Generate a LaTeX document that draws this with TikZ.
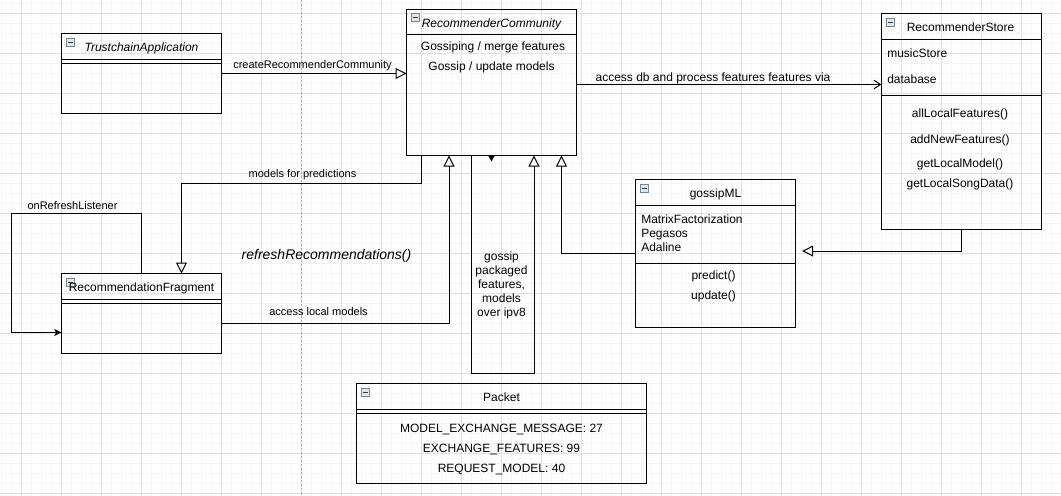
\documentclass[tikz,border=0pt]{standalone}
\usepackage{fontspec}
\setmainfont{Liberation Sans}
\usetikzlibrary{arrows.meta}

\tikzstyle{uml class}=[draw, rectangle, inner sep=0pt, outer sep=0pt, line width=0.75pt]
\tikzstyle{class text}=[inner sep=0pt, font=\fontsize{9}{10.5}\selectfont, text height=7.5pt, text depth=0pt]
\tikzstyle{edge label}=[inner sep=0pt, font=\fontsize{8.25}{10}\selectfont, text height=7.2pt, text depth=0pt]
\tikzstyle{connector}=[line width=0.75pt]
\tikzstyle{generalization}=[connector, -{Triangle[open, length=8.25pt, width=8.25pt]}]
\tikzstyle{collapse icon}=[draw=iconborder, fill=iconfill, line width=0.6pt, minimum size=6pt, inner sep=0pt, path picture={\draw[line width=0.75pt, iconline] ([xshift=1.2pt]path picture bounding box.west) -- ([xshift=-1.2pt]path picture bounding box.east);}]
\definecolor{gridminor}{RGB}{244,244,244}
\definecolor{gridmajor}{RGB}{224,224,224}
\definecolor{pagebreak}{RGB}{170,170,170}
\definecolor{iconborder}{RGB}{120,135,150}
\definecolor{iconfill}{RGB}{225,230,236}
\definecolor{iconline}{RGB}{60,60,60}

\begin{document}
\begin{tikzpicture}[x=0.75pt, y=-0.75pt]
		\useasboundingbox (0,0) rectangle (1061,496);
		% background grid
		\foreach \x in {1,11,...,1061} \draw[gridminor, line width=0.75pt] (\x,0) -- (\x,496);
		\foreach \y in {3.5,13.5,...,493.5} \draw[gridminor, line width=0.75pt] (0,\y) -- (1061,\y);
		\foreach \x in {21,61,...,1061} \draw[gridmajor, line width=0.75pt] (\x,0) -- (\x,496);
		\foreach \y in {13.5,53.5,...,493.5} \draw[gridmajor, line width=0.75pt] (0,\y) -- (1061,\y);
		\draw[pagebreak, line width=0.75pt, dash pattern=on 1.5pt off 1.5pt] (301.5,0) -- (301.5,496);
		
		% classes
		\node [uml class, minimum width=120pt, minimum height=60pt] (app) at (141.5,73.5) {};
		\node [uml class, minimum width=120pt, minimum height=60pt] (frag) at (141.5,313.5) {};
		\node [uml class, minimum width=127.5pt, minimum height=109.5pt] (comm) at (491.5,82.5) {};
		\node [uml class, minimum width=120pt, minimum height=162pt] (store) at (961.5,121.5) {};
		\node [uml class, minimum width=120pt, minimum height=111pt] (gml) at (715.5,253.5) {};
		\node [uml class, minimum width=217.5pt, minimum height=75pt] (packet) at (501.5,433.5) {};
		
		\foreach \c/\d in {app/19.5, app/22.5, frag/19.5, frag/22.5, comm/18.75, store/19.5, store/61.5, gml/19.5, gml/63, packet/19.5, packet/22.5}
			\draw[line width=0.75pt] ([yshift=-\d pt]\c.north west) -- ([yshift=-\d pt]\c.north east);
		\foreach \c in {app,frag,store,gml,packet}
			\node [collapse icon] (\c-icon) at ([xshift=6.75pt, yshift=-6.75pt]\c.north west) {};
		\node [collapse icon] (comm-icon) at ([xshift=6.75pt, yshift=-6pt]comm.north west) {};
		
		\node [class text, font=\fontsize{9}{10.5}\selectfont\itshape] (app-title) at (141.5,46.5) {TrustchainApplication};
		\node [class text] (frag-title) at (141.5,286.5) {RecommendationFragment};
		\node [class text, font=\fontsize{9}{10.5}\selectfont\itshape] (comm-title) at (491.5,22.5) {RecommenderCommunity};
		\node [class text] (comm-op1) at (493,45.5) {Gossiping / merge features};
		\node [class text] (comm-op2) at (491.5,65.5) {Gossip / update models};
		
		\node [class text] (store-title) at (960.5,26.5) {RecommenderStore};
		\node [class text, anchor=west] (store-attr1) at (887,52.5) {musicStore};
		\node [class text, anchor=west] (store-attr2) at (887,78.5) {database};
		\node [class text] (store-op1) at (960,112.5) {allLocalFeatures()};
		\node [class text] (store-op2) at (960,138.5) {addNewFeatures()};
		\node [class text] (store-op3) at (960,162) {getLocalModel()};
		\node [class text] (store-op4) at (960,182) {getLocalSongData()};
		
		\node [class text] (gml-title) at (715.5,192.5) {gossipML};
		\node [class text, anchor=west] (gml-attr1) at (641,218.5) {MatrixFactorization};
		\node [class text, anchor=west] (gml-attr2) at (641,232.5) {Pegasos};
		\node [class text, anchor=west] (gml-attr3) at (641,246.5) {Adaline};
		\node [class text] (gml-op1) at (713.5,274) {predict()};
		\node [class text] (gml-op2) at (713.5,294) {update()};
		
		\node [class text] (packet-title) at (501.5,396.5) {Packet};
		\node [class text] (packet-attr1) at (501.5,427.5) {MODEL\_EXCHANGE\_MESSAGE: 27};
		\node [class text] (packet-attr2) at (501.5,447.5) {EXCHANGE\_FEATURES: 99};
		\node [class text] (packet-attr3) at (501.5,467.5) {REQUEST\_MODEL: 40};
		
		% connectors
		\draw[generalization] (app.east) -- (comm.west |- app.east);
		\coordinate (dbpt) at ([yshift=-1.5pt]comm.east);
		\draw[connector, -{Straight Barb[length=5pt, width=6.5pt]}] (dbpt) -- (dbpt -| store.west);
		\coordinate (predR) at (421.5,183.5);
		\coordinate (predL) at (181.5,183.5);
		\draw[generalization] (comm.south -| predR) -- (predR) -- (predL) -- (frag.north -| predL);
		\coordinate (localpt) at (449,323.5);
		\draw[generalization] (frag.east |- localpt) -- (localpt) -- (localpt |- comm.south);
		\coordinate (loopT) at (11.5,213.5);
		\coordinate (loopB) at (11.5,332.5);
		\draw[connector, -{Stealth[length=5.5pt, width=5.25pt, inset=1.5pt]}] (frag.north) |- (loopT) -- (loopB) -- (loopB -| frag.west);
		\coordinate (gossipL) at (471.5,373.5);
		\coordinate (gossipR) at (534,373.5);
		\draw[generalization] (comm.south -| gossipL) -- (gossipL) -- (gossipR) -- (gossipR |- comm.south);
		\coordinate (mlpt) at (561.5,253.5);
		\draw[generalization] (gml.west) -- (mlpt) -- (mlpt |- comm.south);
		\coordinate (storept) at (961.5,251);
		\draw[generalization, shorten >=5pt] (store.south) -- (storept) -- (storept -| gml.east);
		\fill (comm.south) ++(-3.3,0) -- ++(6.6,0) -- ++(-3.3,6) -- cycle;
		
		% connector labels
		\node [edge label] (create-label) at (312.5,64) {createRecommenderCommunity};
		\node [class text] (db-label) at (713,76.5) {access db and process features features via};
		\node [edge label] (pred-label) at (302.5,172.5) {models for predictions};
		\node [edge label] (refresh-label) at (72.5,204.5) {onRefreshListener};
		\node [edge label] (local-label) at (318.5,310.5) {access local models};
		\node [inner sep=0pt, font=\fontsize{10.5}{12}\selectfont\itshape] (recs-label) at (326.5,256) {refreshRecommendations()};
		\node [inner sep=0pt, align=center, font=\fontsize{9}{10.5}\selectfont] (gossip-label) at (501.5,285) {gossip\\packaged\\features,\\models\\over ipv8};
	\end{tikzpicture}
\end{document}
